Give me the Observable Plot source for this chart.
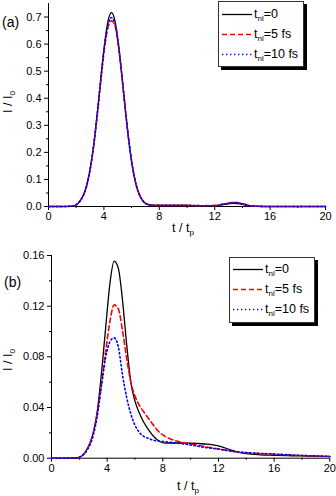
<!DOCTYPE html>
<html>
<head>
<meta charset="utf-8">
<script src="https://cdn.jsdelivr.net/npm/d3@7"></script>
<script src="https://cdn.jsdelivr.net/npm/@observablehq/plot@0.6"></script>
<style>
  html, body { margin: 0; padding: 0; background: #fff; }
  body { width: 336px; height: 496px; overflow: hidden; font-family: "Liberation Sans", Arial, sans-serif; }
  .panel { position: relative; width: 336px; }
  .panel > svg { display: block; }
  .legend { position: absolute; background: #fff; border: 1px solid #333; box-shadow: 3px 3px 0 #000; box-sizing: border-box; }
  .row { position: absolute; left: 0; height: 16px; width: 100%; }
  .sample { position: absolute; top: 0; }
  .lab { position: absolute; top: 0; font-size: 12.5px; line-height: 16px; color: #000; white-space: nowrap; }
  .lab sub { font-size: 8px; vertical-align: -3px; line-height: 0; }
</style>
</head>
<body>
<div id="a" class="panel"></div>
<div id="b" class="panel"></div>
<script>
// ---------- data ----------
const tA = [0, 1, 1.8, 2.05, 2.3, 2.55, 2.8, 3.05, 3.3, 3.55, 3.8, 4.05, 4.3, 4.55, 4.8, 5.05, 5.3, 5.55, 5.8, 6.05, 6.3, 6.55, 6.8, 7.05, 7.5, 8, 9, 10, 11, 12, 12.5, 13, 13.4, 13.8, 14.2, 14.6, 15, 16, 18, 20];
const blackA = [0, 0, 0.002, 0.008, 0.022, 0.045, 0.086, 0.151, 0.243, 0.358, 0.485, 0.602, 0.686, 0.716, 0.686, 0.602, 0.485, 0.358, 0.243, 0.151, 0.086, 0.045, 0.022, 0.010, 0.005, 0.004, 0.004, 0.004, 0.003, 0.003, 0.006, 0.010, 0.012, 0.010, 0.006, 0.002, 0.001, 0, 0, 0];
const redA   = [0, 0, 0.002, 0.008, 0.022, 0.045, 0.086, 0.150, 0.240, 0.352, 0.475, 0.588, 0.662, 0.686, 0.668, 0.592, 0.480, 0.356, 0.243, 0.151, 0.086, 0.045, 0.022, 0.010, 0.005, 0.004, 0.004, 0.004, 0.003, 0.004, 0.008, 0.013, 0.016, 0.013, 0.008, 0.003, 0.001, 0, 0, 0];
const blueA  = [0, 0, 0.002, 0.008, 0.022, 0.045, 0.086, 0.150, 0.241, 0.355, 0.480, 0.594, 0.672, 0.698, 0.676, 0.596, 0.482, 0.357, 0.243, 0.151, 0.086, 0.045, 0.022, 0.010, 0.005, 0.004, 0.004, 0.004, 0.003, 0.003, 0.007, 0.012, 0.014, 0.012, 0.007, 0.002, 0.001, 0, 0, 0];

const tB = [0, 1, 1.8, 2.2, 2.6, 3.0, 3.3, 3.6, 3.9, 4.2, 4.5, 4.8, 5.1, 5.4, 5.7, 6.0, 6.3, 6.6, 7.0, 7.4, 7.8, 8.2, 9, 10, 11, 11.6, 12.2, 12.8, 13.4, 14, 15, 16, 17, 18, 19, 20];
const blackB = [0, 0, 0.0003, 0.002, 0.008, 0.020, 0.038, 0.068, 0.104, 0.138, 0.1555, 0.150, 0.125, 0.090, 0.060, 0.045, 0.036, 0.029, 0.022, 0.0165, 0.013, 0.012, 0.012, 0.0118, 0.0112, 0.0106, 0.0092, 0.0068, 0.0048, 0.0036, 0.0027, 0.0023, 0.0020, 0.0018, 0.0016, 0.0014];
const redB   = [0, 0, 0.0003, 0.002, 0.008, 0.020, 0.036, 0.059, 0.085, 0.108, 0.121, 0.118, 0.101, 0.079, 0.060, 0.049, 0.042, 0.037, 0.031, 0.025, 0.020, 0.017, 0.0135, 0.0113, 0.0092, 0.0080, 0.0070, 0.0058, 0.0048, 0.0042, 0.0036, 0.0031, 0.0026, 0.0021, 0.0016, 0.0012];
const blueB  = [0, 0, 0.0003, 0.002, 0.007, 0.018, 0.034, 0.058, 0.080, 0.092, 0.095, 0.088, 0.066, 0.048, 0.035, 0.026, 0.0205, 0.0175, 0.0155, 0.014, 0.0135, 0.013, 0.012, 0.0104, 0.0085, 0.0077, 0.0068, 0.0058, 0.0050, 0.0044, 0.0038, 0.0033, 0.0027, 0.0022, 0.0018, 0.0014];

const seriesNames = ["0", "5 fs", "10 fs"];
const xTicks = [0, 4, 8, 12, 16, 20];
const xMinor = [2, 6, 10, 14, 18];
const yTicksA = [0, 0.1, 0.2, 0.3, 0.4, 0.5, 0.6, 0.7];
const yMinorA = [0.05, 0.15, 0.25, 0.35, 0.45, 0.55, 0.65];
const yTicksB = [0, 0.04, 0.08, 0.12, 0.16];
const yMinorB = [0.02, 0.06, 0.1, 0.14];

// ---------- styles ----------
const styles = [
  {stroke: "#000", strokeWidth: 1.3},
  {stroke: "#f00", strokeWidth: 1.6, strokeDasharray: "5,3"},
  {stroke: "#00f", strokeWidth: 1.6, strokeDasharray: "1.4,2.6"}
];

function rows(t, vals) { return t.map((x, i) => ({t: x, v: vals[i]})); }

function panel({t, series, yDomain, yTicks, yMinor, yFmt, mL, mR, mT, mB, height}) {
  const lines = series.map((vals, i) => Plot.line(rows(t, vals), {x: "t", y: "v", curve: "monotone-x", ...styles[i]}));
  return Plot.plot({
    width: 336, height,
    marginLeft: mL, marginRight: mR, marginTop: mT, marginBottom: mB,
    x: {domain: [0, 20]},
    y: {domain: yDomain},
    style: {fontFamily: "'Liberation Sans', Arial, sans-serif", fontSize: "11px", color: "#000", background: "#fff"},
    marks: [
      Plot.axisX({ticks: xTicks, tickSize: 4, tickPadding: 2, label: null, tickFormat: d => d}),
      Plot.axisX({ticks: xMinor, tickSize: 2, tickFormat: () => "", label: null}),
      Plot.axisY({ticks: yTicks, tickSize: 4, tickPadding: 3, label: null, tickFormat: yFmt}),
      Plot.axisY({ticks: yMinor, tickSize: 2, tickFormat: () => "", label: null}),
      Plot.ruleY([0], {stroke: "#000", strokeWidth: 1}),
      Plot.ruleX([0], {stroke: "#000", strokeWidth: 1}),
      ...lines
    ]
  });
}

function addText(svg, {x, y, rotate, main, sub, size, anchor}) {
  const s = d3.select(svg);
  const txt = s.append("text")
    .attr("transform", `translate(${x},${y})` + (rotate ? ` rotate(${rotate})` : ""))
    .attr("text-anchor", anchor || "middle")
    .attr("dominant-baseline", "central")
    .style("font-family", "'Liberation Sans', Arial, sans-serif")
    .style("font-size", size + "px")
    .attr("fill", "#000");
  txt.append("tspan").text(main);
  if (sub) txt.append("tspan").attr("dy", size * 0.35).style("font-size", (size * 0.65) + "px").text(sub);
}

function legend(container, {left, top, width, height, rowY, sx0, sx1, tx}) {
  const box = document.createElement("div");
  box.className = "legend";
  Object.assign(box.style, {left: left + "px", top: top + "px", width: width + "px", height: height + "px"});
  seriesNames.forEach((name, i) => {
    const r = document.createElement("div");
    r.className = "row";
    r.style.top = (rowY[i] - top - 9) + "px";
    const w = sx1 - sx0;
    const smp = d3.create("svg").attr("class", "sample").attr("width", w).attr("height", 16)
      .style("left", (sx0 - left - 1) + "px");
    const st = styles[i];
    smp.append("line").attr("x1", 0).attr("x2", w).attr("y1", 8.5).attr("y2", 8.5)
      .attr("stroke", st.stroke).attr("stroke-width", st.strokeWidth)
      .attr("stroke-dasharray", st.strokeDasharray || null);
    const lab = document.createElement("div");
    lab.className = "lab";
    lab.style.left = (tx - left - 1) + "px";
    lab.innerHTML = `t<sub>nl</sub>=${name}`;
    r.appendChild(smp.node()); r.appendChild(lab);
    box.appendChild(r);
  });
  container.appendChild(box);
}

// ---------- panel (a) ----------
const divA = document.getElementById("a");
const svgA = panel({t: tA, series: [blackA, redA, blueA], yDomain: [0, 0.75], yTicks: yTicksA, yMinor: yMinorA, yFmt: d3.format(".1f"), mL: 48, mR: 11, mT: 3, mB: 34, height: 240});
divA.appendChild(svgA);
addText(svgA, {x: 2, y: 22, main: "(a)", size: 14, anchor: "start"});
addText(svgA, {x: 8, y: 102, rotate: -90, main: "I / I", sub: "0", size: 12.5});
addText(svgA, {x: 183, y: 228, main: "t / t", sub: "p", size: 12.5});
legend(divA, {left: 218, top: 1, width: 86, height: 66, rowY: [14, 34, 54], sx0: 222, sx1: 252, tx: 254});

// ---------- panel (b) ----------
const divB = document.getElementById("b");
const svgB = panel({t: tB, series: [blackB, redB, blueB], yDomain: [0, 0.16], yTicks: yTicksB, yMinor: yMinorB, yFmt: d3.format(".2f"), mL: 51, mR: 6.7, mT: 15, mB: 38.3, height: 256});
divB.appendChild(svgB);
addText(svgB, {x: 4, y: 42, main: "(b)", size: 14, anchor: "start"});
addText(svgB, {x: 8, y: 120, rotate: -90, main: "I / I", sub: "0", size: 12.5});
addText(svgB, {x: 188, y: 246, main: "t / t", sub: "p", size: 12.5});
legend(divB, {left: 229, top: 17, width: 86, height: 66, rowY: [29, 49, 69], sx0: 233, sx1: 263, tx: 265});
</script>
</body>
</html>
